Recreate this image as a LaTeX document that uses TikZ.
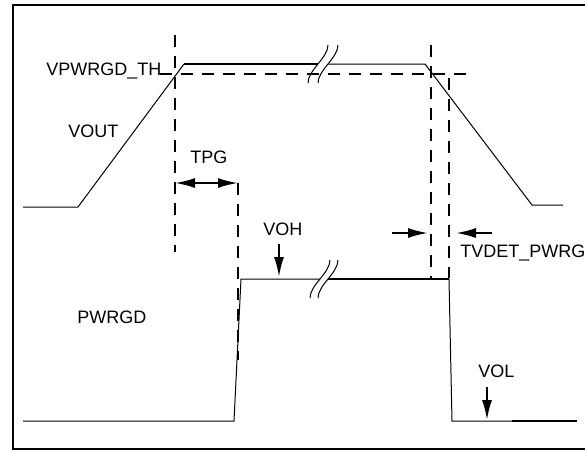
\documentclass[tikz,border=0pt]{standalone}
\usepackage{fontspec}
\setmainfont{Liberation Sans}
\usetikzlibrary{arrows.meta}

\begin{document}
\begin{tikzpicture}[x=0.5pt,y=-0.5pt,>={Latex[length=10pt,width=5pt]},
                    line join=miter]
  \tikzstyle{every node}=[inner sep=0pt,anchor=base west,
                          font=\fontsize{9}{11}\selectfont]
  \tikzstyle{sig}=[line width=0.5pt]
  \tikzstyle{sigbold}=[line width=1pt]
  \tikzstyle{guide}=[line width=1pt,dash pattern=on 6pt off 4.5pt]
  \tikzstyle{brk}=[line width=0.5pt]
  \tikzstyle{dim}=[line width=1pt]

  \useasboundingbox (0,0) rectangle (585,451);
  \draw[line width=1pt] (585,5) -- (13,5) -- (13,449) -- (585,449);

  % VOUT
  \coordinate (v0) at (23,207);
  \coordinate (v1) at (78,207);
  \coordinate (v2) at (184,64);
  \coordinate (v3) at (318,64);
  \coordinate (v4) at (328,64);
  \coordinate (v5) at (425,64);
  \coordinate (v6) at (532,205);
  \coordinate (v7) at (563,205);
  \draw[sig] (v0) -- (v1) -- (v2);
  \draw[sigbold] (v2) -- (v3);
  \draw[sig] (v4) -- (v5) -- (v6) -- (v7);
  \draw[brk] (308,83) .. controls (308,70) and (328,58) .. (328,45)
             (318,83) .. controls (318,70) and (338,58) .. (338,45);

  % PWRGD
  \coordinate (p0) at (23,421);
  \coordinate (p1) at (234,421);
  \coordinate (p2) at (241,279);
  \coordinate (p3) at (320,279);
  \coordinate (p4) at (328,279);
  \coordinate (p5) at (449,279);
  \coordinate (p6) at (452,421);
  \coordinate (p7) at (512,421);
  \coordinate (p8) at (577,421);
  \draw[sig] (p0) -- (p1) -- (p2) -- (p3);
  \draw[sigbold] (p4) -- (p5);
  \draw[sig] (p5) -- (p6) -- (p7);
  \draw[sigbold] (p7) -- (p8);
  \draw[brk] (310,298) .. controls (310,285) and (330,273) .. (330,260)
             (318,298) .. controls (318,285) and (338,273) .. (338,260);

  % threshold and timing guides
  \coordinate (th0) at (160,74);
  \coordinate (th1) at (470,74);
  \coordinate (ga0) at (175,35);
  \coordinate (ga1) at (175,252);
  \coordinate (gb0) at (238,183);
  \coordinate (gb1) at (238,360);
  \coordinate (gc0) at (431,45);
  \coordinate (gc1) at (431,278);
  \coordinate (gd0) at (449,78);
  \coordinate (gd1) at (449,278);
  \draw[guide] (th0) -- (th1);
  \draw[guide] (ga0) -- (ga1);
  \draw[guide] (gb0) -- (gb1);
  \draw[guide] (gc0) -- (gc1);
  \draw[guide] (gd0) -- (gd1);

  % labels
  \node (vth)   at (46,75)   {VPWRGD\_TH};
  \node (vout)  at (68,137)  {VOUT};
  \node (tpg)   at (190,163) {TPG};
  \node (voh)   at (263,235) {VOH};
  \node (pwrgd) at (77,323)  {PWRGD};
  \node (tvdet) at (460,257) {TVDET\_PWRG};
  \node (vol)   at (478,377) {VOL};

  % arrows
  \coordinate (tpgA) at (175,183);
  \coordinate (tpgB) at (238,183);
  \draw[dim,<->] (tpgA) -- (tpgB);
  \coordinate (vohA) at (279,244);
  \coordinate (vohB) at (279,277);
  \draw[dim,->] (vohA) -- (vohB);
  \coordinate (tvA) at (392,233);
  \coordinate (tvB) at (428,233);
  \coordinate (tvC) at (492,233);
  \coordinate (tvD) at (456,233);
  \draw[dim,->] (tvA) -- (tvB);
  \draw[dim,->] (tvC) -- (tvD);
  \coordinate (volA) at (487,387);
  \coordinate (volB) at (487,420);
  \draw[dim,->] (volA) -- (volB);
\end{tikzpicture}
\end{document}
